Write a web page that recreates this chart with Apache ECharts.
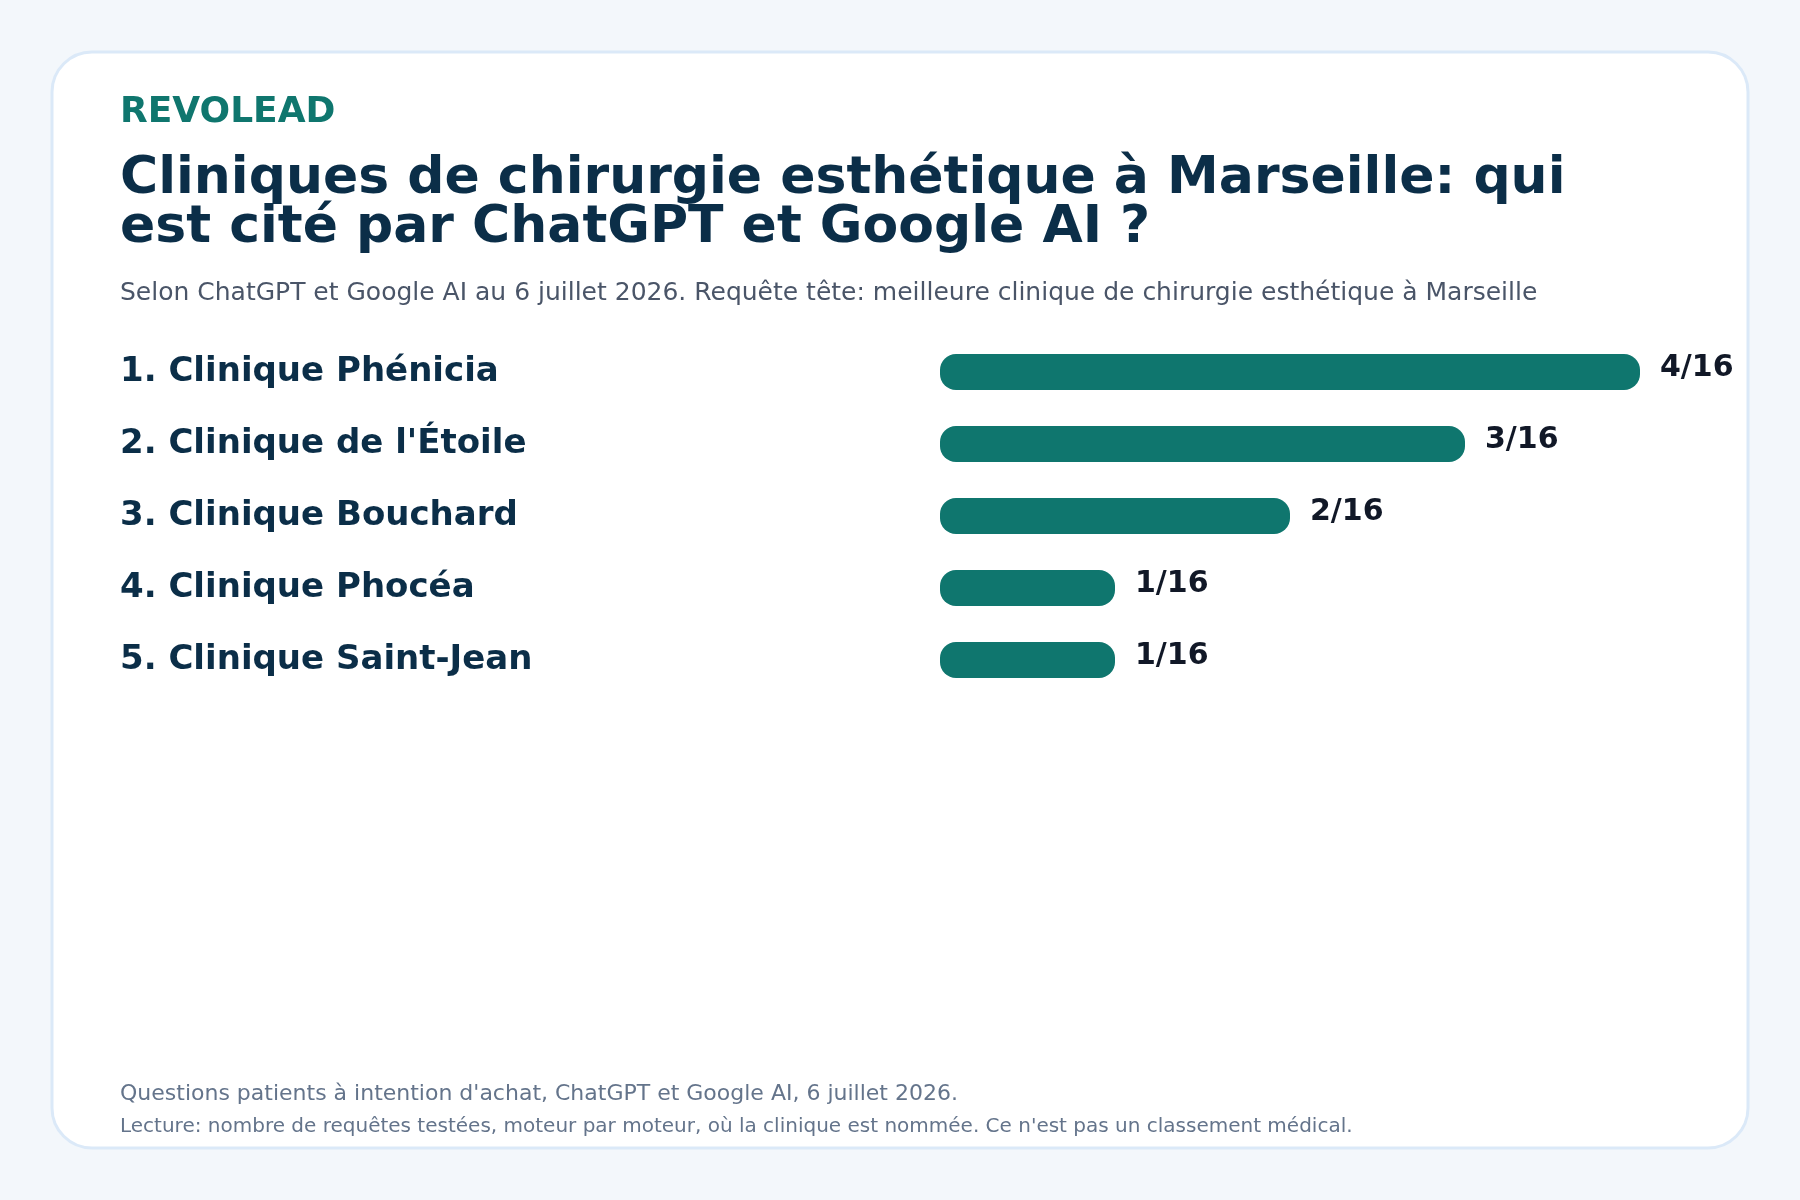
<!DOCTYPE html>
<html>
<head>
<meta charset="utf-8">
<title>Cliniques de chirurgie esthétique à Marseille</title>
<script src="https://cdn.jsdelivr.net/npm/echarts@6/dist/echarts.min.js"></script>
<style>
  html, body { margin: 0; padding: 0; background: #f3f7fb; }
  #chart { width: 1800px; height: 1200px; }
</style>
</head>
<body>
<div id="chart"></div>
<script>
// données
var cliniques = ['1. Clinique Phénicia', "2. Clinique de l'Étoile", '3. Clinique Bouchard', '4. Clinique Phocéa', '5. Clinique Saint-Jean'];
var citations = [4, 3, 2, 1, 1];
var totalRequetes = 16;

var FONT = 'DejaVu Sans';
var navy = '#0b2e48';
var teal = '#0f766e';

var chart = echarts.init(document.getElementById('chart'), null, { renderer: 'canvas' });

var option = {
  backgroundColor: '#f3f7fb',
  animation: false,
  graphic: [
    // carte blanche
    {
      type: 'rect', z: -10,
      shape: { x: 52, y: 52, width: 1696, height: 1096, r: 40 },
      style: { fill: '#ffffff', stroke: '#dbe9f8', lineWidth: 3 }
    },
    {
      type: 'text', x: 120, y: 113,
      style: { text: 'REVOLEAD', fill: teal, font: 'bold 36px ' + FONT, verticalAlign: 'middle' }
    },
    {
      type: 'text', x: 120, y: 155,
      style: {
        text: 'Cliniques de chirurgie esthétique à Marseille: qui\nest cité par ChatGPT et Google AI ?',
        fill: navy, font: 'bold 52px ' + FONT, lineHeight: 49, verticalAlign: 'top'
      }
    },
    {
      type: 'text', x: 120, y: 293,
      style: {
        text: 'Selon ChatGPT et Google AI au 6 juillet 2026. Requête tête: meilleure clinique de chirurgie esthétique à Marseille',
        fill: '#4a5568', font: '25px ' + FONT, verticalAlign: 'middle'
      }
    },
    {
      type: 'text', x: 120, y: 1094,
      style: {
        text: "Questions patients à intention d'achat, ChatGPT et Google AI, 6 juillet 2026.",
        fill: '#64748b', font: '22px ' + FONT, verticalAlign: 'middle'
      }
    },
    {
      type: 'text', x: 120, y: 1127,
      style: {
        text: "Lecture: nombre de requêtes testées, moteur par moteur, où la clinique est nommée. Ce n'est pas un classement médical.",
        fill: '#64748b', font: '20px ' + FONT, verticalAlign: 'middle'
      }
    }
  ],
  grid: { left: 940, width: 700, top: 336, height: 360, containLabel: false },
  xAxis: {
    type: 'value', min: 0, max: 4, show: false
  },
  yAxis: {
    type: 'category', data: cliniques, inverse: true,
    axisLine: { show: false }, axisTick: { show: false },
    axisLabel: {
      align: 'left', margin: 820,
      color: navy, fontFamily: FONT, fontWeight: 'bold', fontSize: 34
    }
  },
  series: [{
    type: 'bar',
    data: citations,
    barWidth: 36,
    itemStyle: { color: teal, borderRadius: 16 },
    label: {
      show: true, position: 'right', distance: 20, offset: [0, -4],
      formatter: function (p) { return p.value + '/' + totalRequetes; },
      color: '#111827', fontFamily: FONT, fontWeight: 'bold', fontSize: 30
    }
  }]
};

chart.setOption(option);
</script>
</body>
</html>
